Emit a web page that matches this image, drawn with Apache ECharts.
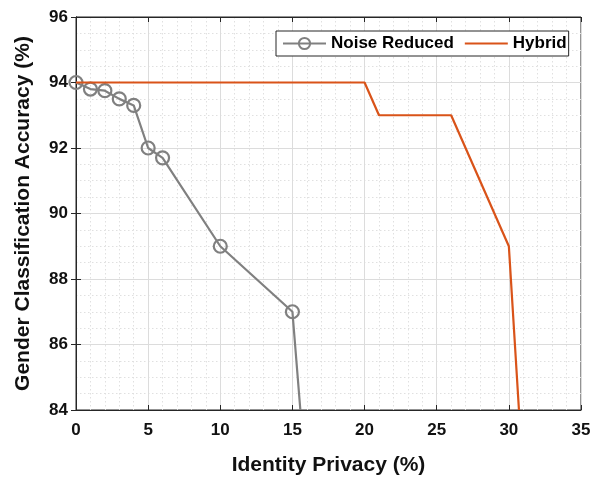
<!DOCTYPE html>
<html>
<head>
<meta charset="utf-8">
<script src="https://cdn.jsdelivr.net/npm/echarts@6/dist/echarts.min.js"></script>
<style>html,body{margin:0;padding:0;background:#fff}#c{width:592px;height:477px}</style>
</head>
<body>
<div id="c"></div>
<script>
// Data
const noiseX = [0, 1, 2, 3, 4, 5, 6, 10, 15, 15.55];
const noiseY = [94, 93.8, 93.75, 93.5, 93.3, 92, 91.7, 89, 87, 84];
const hybridX = [0, 20, 21, 26, 30, 30.7];
const hybridY = [94, 94, 93, 93, 89, 84];
const xTicks = [0, 5, 10, 15, 20, 25, 30, 35];
const yTicks = [84, 86, 88, 90, 92, 94, 96];

const font = '"Liberation Sans", Arial, Helvetica, sans-serif';
const txt = '#111';
const noiseData = noiseX.map((x, i) => {
  const d = { value: [x, noiseY[i]] };
  if (i === noiseX.length - 1) d.symbol = 'none';
  return d;
});
const hybridData = hybridX.map((x, i) => [x, hybridY[i]]);

const chart = echarts.init(document.getElementById('c'), null, { renderer: 'canvas' });
const gridLine = { show: true, lineStyle: { color: '#dcdcdc', width: 1 } };
const minorLine = { show: true, lineStyle: { color: '#e0e0e0', width: 1, type: [1.5, 2.5] } };
chart.setOption({
  animation: false,
  backgroundColor: '#fff',
  grid: { left: 76, right: 11, top: 17, bottom: 67, outerBoundsMode: 'none', containLabel: false, show: true, borderColor: '#262626', borderWidth: 1, backgroundColor: 'transparent' },
  legend: {
    left: 276, top: 31,
    itemWidth: 43, itemHeight: 14, itemGap: 10,
    padding: [4, 2, 4, 6],
    borderColor: '#262626', borderWidth: 1, borderRadius: 0,
    backgroundColor: '#fff',
    textStyle: { fontFamily: font, fontWeight: 'bold', fontSize: 17, color: '#000' },
    data: [{ name: 'Noise Reduced' }, { name: 'Hybrid', itemStyle: { opacity: 0 } }]
  },
  xAxis: [{
    type: 'value', min: xTicks[0], max: xTicks[xTicks.length - 1], interval: 5,
    name: 'Identity Privacy (%)', nameLocation: 'middle', nameGap: 45,
    nameTextStyle: { fontFamily: font, fontWeight: 'bold', fontSize: 21, color: txt },
    axisLine: { show: true, lineStyle: { color: '#262626', width: 1 } },
    axisTick: { show: true, inside: true, length: 5, lineStyle: { color: '#262626' } },
    axisLabel: { fontFamily: font, fontWeight: 'bold', fontSize: 17, color: txt, margin: 12 },
    splitLine: gridLine,
    minorTick: { show: false, splitNumber: 5 },
    minorSplitLine: minorLine
  }, {
    type: 'value', position: 'top', min: 0, max: 35, interval: 5,
    axisLine: { show: true, lineStyle: { color: '#262626' } },
    axisTick: { show: true, inside: true, length: 5, lineStyle: { color: '#262626' } },
    axisLabel: { show: false }, splitLine: { show: false }
  }],
  yAxis: [{
    type: 'value', min: yTicks[0], max: yTicks[yTicks.length - 1], interval: 2,
    name: 'Gender Classification Accuracy (%)', nameLocation: 'middle', nameGap: 42,
    nameTextStyle: { fontFamily: font, fontWeight: 'bold', fontSize: 21, color: txt },
    axisLine: { show: true, lineStyle: { color: '#262626', width: 1 } },
    axisTick: { show: true, inside: true, length: 5, lineStyle: { color: '#262626' } },
    axisLabel: { fontFamily: font, fontWeight: 'bold', fontSize: 17, color: txt, margin: 8 },
    splitLine: gridLine,
    minorTick: { show: false, splitNumber: 4 },
    minorSplitLine: minorLine
  }, {
    type: 'value', position: 'right', min: 84, max: 96, interval: 2,
    axisLine: { show: true, lineStyle: { color: '#262626' } },
    axisTick: { show: true, inside: true, length: 5, lineStyle: { color: '#262626' } },
    axisLabel: { show: false }, splitLine: { show: false }
  }],
  series: [{
    name: 'Noise Reduced', type: 'line', data: noiseData,
    symbol: 'circle', symbolSize: 13,
    lineStyle: { color: '#808080', width: 2.2 },
    itemStyle: { color: 'rgba(255,255,255,0)', borderColor: '#808080', borderWidth: 2.2 },
    z: 3
  }, {
    name: 'Hybrid', type: 'line', data: hybridData,
    symbol: 'none', showSymbol: false,
    lineStyle: { color: '#D95319', width: 2.2 },
    itemStyle: { color: '#D95319' },
    z: 4
  }]
});
</script>
</body>
</html>
